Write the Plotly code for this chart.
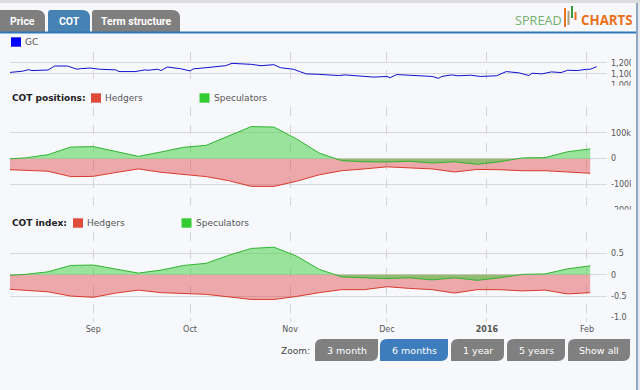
import plotly.graph_objects as go

# ---------------- data ----------------
cot_dates = ["2015-08-04", "2015-08-11", "2015-08-18", "2015-08-25", "2015-09-01", "2015-09-08",
             "2015-09-15", "2015-09-22", "2015-09-29", "2015-10-06", "2015-10-13", "2015-10-20",
             "2015-10-27", "2015-11-03", "2015-11-10", "2015-11-17", "2015-11-24", "2015-12-01",
             "2015-12-08", "2015-12-15", "2015-12-22", "2015-12-29", "2016-01-05", "2016-01-12",
             "2016-01-19", "2016-01-26", "2016-02-02"]
pos_speculators = [-2000, 3000, 15600, 45000, 47000, 27000, 9000, 26000, 44000, 52000, 87000, 125000,
                   123000, 77000, 22000, -8000, -12000, -13000, -10000, -17000, -12000, -22000,
                   -12000, 3000, 4000, 27000, 38000]
pos_hedgers = [-42000, -45000, -49000, -70000, -69000, -54000, -40000, -53000, -62000, -70000, -86000,
               -108000, -108000, -88000, -63000, -47000, -40000, -32000, -36000, -40000, -52000,
               -42000, -43000, -47000, -47000, -52000, -57000]
idx_speculators = [-0.02, 0.01, 0.07, 0.22, 0.23, 0.13, 0.04, 0.11, 0.22, 0.27, 0.46, 0.62, 0.65,
                   0.44, 0.13, -0.05, -0.07, -0.09, -0.07, -0.12, -0.07, -0.13, -0.07, 0.01, 0.02,
                   0.14, 0.21]
idx_hedgers = [-0.33, -0.37, -0.40, -0.50, -0.53, -0.43, -0.36, -0.42, -0.44, -0.46, -0.52, -0.58,
               -0.58, -0.51, -0.42, -0.35, -0.35, -0.28, -0.32, -0.35, -0.43, -0.35, -0.35, -0.38,
               -0.36, -0.45, -0.42]

price_dates = ["2015-08-05", "2015-08-10", "2015-08-12", "2015-08-13", "2015-08-18", "2015-08-20",
               "2015-08-24", "2015-08-25", "2015-08-27", "2015-08-28", "2015-08-31", "2015-09-03",
               "2015-09-08", "2015-09-09", "2015-09-14", "2015-09-17", "2015-09-18", "2015-09-21",
               "2015-09-22", "2015-09-24", "2015-09-28", "2015-10-01", "2015-10-02", "2015-10-06",
               "2015-10-09", "2015-10-12", "2015-10-14", "2015-10-16", "2015-10-20", "2015-10-23",
               "2015-10-27", "2015-10-29", "2015-11-01", "2015-11-02", "2015-11-04", "2015-11-06",
               "2015-11-10", "2015-11-16", "2015-11-18", "2015-11-23", "2015-11-27", "2015-12-01",
               "2015-12-02", "2015-12-04", "2015-12-09", "2015-12-15", "2015-12-17", "2015-12-18",
               "2015-12-21", "2015-12-23", "2015-12-27", "2015-12-30", "2016-01-04", "2016-01-05",
               "2016-01-07", "2016-01-11", "2016-01-14", "2016-01-15", "2016-01-18", "2016-01-21",
               "2016-01-24", "2016-01-26", "2016-01-29", "2016-02-01", "2016-02-02", "2016-02-04"]
price_gc = [1110, 1124, 1138, 1130, 1135, 1171, 1171, 1162, 1142, 1147, 1153, 1142, 1136, 1121, 1121,
            1136, 1133, 1142, 1130, 1162, 1147, 1127, 1145, 1156, 1168, 1174, 1195, 1192, 1186, 1174,
            1183, 1156, 1150, 1142, 1121, 1100, 1096, 1085, 1091, 1083, 1071, 1077, 1065, 1094, 1088,
            1077, 1060, 1077, 1091, 1083, 1088, 1077, 1083, 1094, 1121, 1109, 1085, 1106, 1100, 1118,
            1112, 1133, 1130, 1142, 1142, 1165]

month_ticks = ["2015-09-01", "2015-10-01", "2015-11-01", "2015-12-01", "2016-01-01", "2016-02-01"]
month_labels = ["Sep", "Oct", "Nov", "Dec", "<b>2016</b>", "Feb"]
gc_ticks = [1000, 1100, 1200, 1300]
gc_labels = ["1,000", "1,100", "1,200", ""]
pos_ticks = [-200000, -100000, 0, 100000, 200000]
pos_labels = ["-200k", "-100k", "0", "100k", ""]
idx_ticks = [-1.0, -0.5, 0, 0.5, 1.0]
idx_labels = ["-1.0", "-0.5", "0", "0.5", ""]
zoom_buttons = ["3 month", "6 months", "1 year", "5 years", "Show all"]

# ---------------- styling ----------------
W, H = 640, 390
BG = "#f7f8fc"
FONT = "DejaVu Sans, Verdana, sans-serif"
RED_LINE, RED_FILL = "#d93a2b", "rgba(222,70,70,0.45)"
GRN_LINE, GRN_FILL = "#2fb52f", "rgba(60,205,60,0.5)"


def X(px):
    return px / W


def Y(py):
    return 1 - py / H


x_range = ["2015-08-06 05:00", "2016-02-07 05:00"]
dom_x = [X(10), X(607)]

fig = go.Figure()
fig.add_trace(go.Scatter(x=price_dates, y=price_gc, mode="lines", line=dict(color="#1010d0", width=1),
                         xaxis="x", yaxis="y", showlegend=False, hoverinfo="skip"))
fig.add_trace(go.Scatter(x=cot_dates, y=pos_hedgers, mode="lines", fill="tozeroy", fillcolor=RED_FILL,
                         line=dict(color=RED_LINE, width=1), xaxis="x2", yaxis="y2", showlegend=False))
fig.add_trace(go.Scatter(x=cot_dates, y=pos_speculators, mode="lines", fill="tozeroy", fillcolor=GRN_FILL,
                         line=dict(color=GRN_LINE, width=1), xaxis="x2", yaxis="y2", showlegend=False))
fig.add_trace(go.Scatter(x=cot_dates, y=idx_hedgers, mode="lines", fill="tozeroy", fillcolor=RED_FILL,
                         line=dict(color=RED_LINE, width=1), xaxis="x3", yaxis="y3", showlegend=False))
fig.add_trace(go.Scatter(x=cot_dates, y=idx_speculators, mode="lines", fill="tozeroy", fillcolor=GRN_FILL,
                         line=dict(color=GRN_LINE, width=1), xaxis="x3", yaxis="y3", showlegend=False))

xcommon = dict(range=x_range, domain=dom_x, type="date", tickmode="array", tickvals=month_ticks,
               ticktext=month_labels, showgrid=True, gridcolor="#d4d4d4", griddash="dash", gridwidth=1,
               zeroline=False, showline=False, fixedrange=True, automargin=False,
               tickfont=dict(family=FONT, size=8, color="#555"))
ycommon = dict(side="right", showgrid=True, gridcolor="#d9d9d9", gridwidth=1, zeroline=False,
               showline=False, tickmode="array", ticks="", ticklabelstandoff=3, automargin=False,
               fixedrange=True, tickfont=dict(family=FONT, size=8, color="#555"))

fig.update_layout(
    width=W, height=H, margin=dict(l=0, r=0, t=0, b=0, pad=0),
    paper_bgcolor=BG, plot_bgcolor=BG, showlegend=False,
    xaxis=dict(xcommon, anchor="y", showticklabels=False),
    xaxis2=dict(xcommon, anchor="y2", matches="x", showticklabels=False),
    xaxis3=dict(xcommon, anchor="y3", matches="x", showticklabels=True, ticks="outside", ticklen=4,
                tickcolor="#d4d4d4"),
    yaxis=dict(ycommon, anchor="x", domain=[Y(85), Y(51.7)], range=[1000, 1300],
               tickvals=gc_ticks, ticktext=gc_labels),
    yaxis2=dict(ycommon, anchor="x2", domain=[Y(210), Y(107.3)], range=[-200000, 200000],
                tickvals=pos_ticks, ticktext=pos_labels),
    yaxis3=dict(ycommon, anchor="x3", domain=[Y(317.3), Y(232.3)], range=[-1, 1],
                tickvals=idx_ticks, ticktext=idx_labels),
)

shapes = []
annotations = []


def rect(x0, y0, x1, y1, color, layer="above"):
    shapes.append(dict(type="rect", xref="paper", yref="paper", x0=X(x0), x1=X(x1), y0=Y(y1), y1=Y(y0),
                       fillcolor=color, line=dict(width=0), layer=layer))


def tab_path(x0, y0, x1, y1, rl, rr):
    p = (f"M {X(x0)},{Y(y1)} L {X(x0)},{Y(y0 + rl)} Q {X(x0)},{Y(y0)} {X(x0 + rl)},{Y(y0)} "
         f"L {X(x1 - rr)},{Y(y0)} Q {X(x1)},{Y(y0)} {X(x1)},{Y(y0 + rr)} L {X(x1)},{Y(y1)} Z")
    return p


def btn_path(x0, y0, x1, y1, r):
    p = (f"M {X(x0)},{Y(y1)} L {X(x0)},{Y(y0 + r)} Q {X(x0)},{Y(y0)} {X(x0 + r)},{Y(y0)} "
         f"L {X(x1)},{Y(y0)} L {X(x1)},{Y(y1 - r)} Q {X(x1)},{Y(y1)} {X(x1 - r)},{Y(y1)} Z")
    return p


def text(x, y, s, size=9, color="#555", anchor="left", family=FONT):
    annotations.append(dict(xref="paper", yref="paper", x=X(x), y=Y(y), text=s, showarrow=False,
                            xanchor=anchor, yanchor="middle", borderpad=0,
                            font=dict(family=family, size=size, color=color)))


# clip of axis labels at the chart's right edge and lower halves of cut labels
rect(631, 33.5, 636, 390, BG)
rect(609, 85.6, 631, 93, BG)
rect(609, 209.6, 631, 217, BG)

# top chrome
rect(0, 0, 640, 3, "#dcdcdc")
for (x0, x1, col, label) in [(-4, 45, "#7f7f7f", "Price"), (48, 90, "#4682b4", "COT"),
                             (92, 180, "#7f7f7f", "Term structure")]:
    shapes.append(dict(type="path", xref="paper", yref="paper", path=tab_path(x0, 10, x1, 32, 3, 8),
                       fillcolor=col, line=dict(width=0), layer="above"))
    text((x0 + x1) / 2 + (2 if x0 < 0 else 0), 21, f"<b>{label}</b>", size=10.5, color="white",
         anchor="center", family="Liberation Sans Narrow, Arial Narrow, Roboto, sans-serif")
rect(0, 31.5, 637, 33.5, "#2f78b8")
# right border
rect(636, 3, 638, 390, "#8ea6c0")
rect(638, 3, 640, 390, "#e6e9ef")

# logo
text(514, 20, "SPREAD", size=12.7, color="#72b06c", family="Open Sans, sans-serif")
rect(564, 8, 566, 27, "#e8731f")
rect(567.5, 11, 569.5, 25, "#a8a07a")
rect(571, 6, 573, 18, "#3a9a3a")
rect(574.5, 12, 576.5, 20, "#e8731f")
text(580, 20, "<b>CHARTS</b>", size=13.3, color="#e8701a", family="Open Sans, sans-serif")

# panel legends
rect(11, 37.3, 21, 46.7, "#0000ff")
text(24, 42, "GC")
text(11, 98, "<b>COT positions:</b>", size=9, color="#222")
rect(91, 93.3, 101, 102.7, "#e04a3a")
text(104, 98, "Hedgers")
rect(199.5, 93.3, 209.5, 102.7, "#33cc33")
text(212.5, 98, "Speculators")
text(11, 223, "<b>COT index:</b>", size=9, color="#222")
rect(73, 218.3, 83, 227.7, "#e04a3a")
text(86, 223, "Hedgers")
rect(181.5, 218.3, 191.5, 227.7, "#33cc33")
text(194.5, 223, "Speculators")

# zoom buttons
text(311, 351, "Zoom:", color="#444", anchor="right")
btn_x = [(315, 378), (380, 448), (451, 504), (507, 565), (568, 630)]
for (x0, x1), label in zip(btn_x, zoom_buttons):
    col = "#3d7dbd" if label == "6 months" else "#808080"
    shapes.append(dict(type="path", xref="paper", yref="paper", path=btn_path(x0, 339, x1, 361, 7),
                       fillcolor=col, line=dict(width=0), layer="above"))
    text((x0 + x1) / 2, 350.5, label, size=9.5, color="white", anchor="center")

fig.update_layout(shapes=shapes, annotations=annotations)
fig.write_html("out.html", config={"displayModeBar": False},
               post_script="document.body.style.margin='0';document.body.style.padding='0';")
